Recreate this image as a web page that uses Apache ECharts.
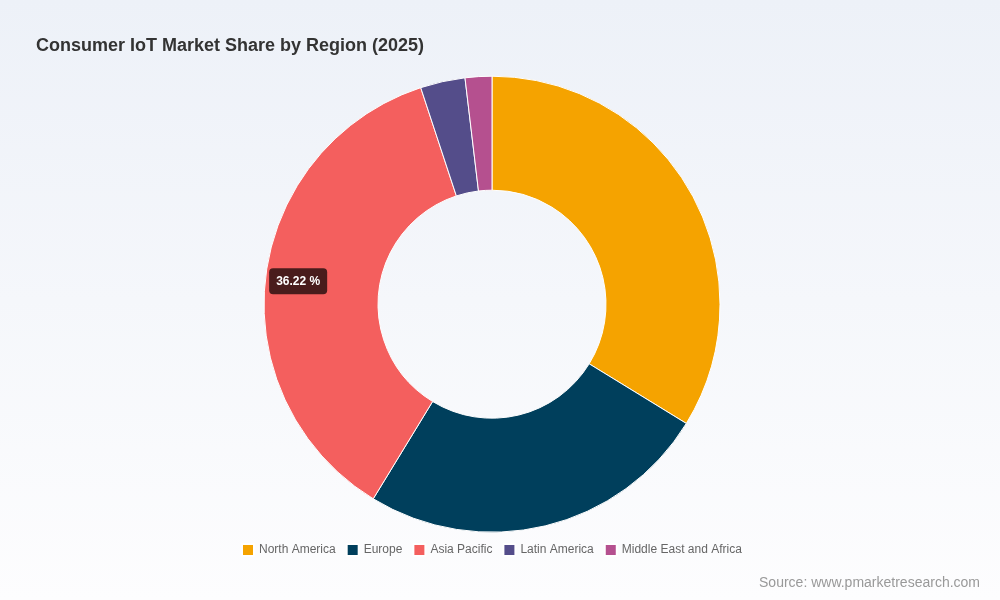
<!DOCTYPE html>
<html>
<head>
<meta charset="utf-8">
<script src="https://cdn.jsdelivr.net/npm/echarts@6/dist/echarts.min.js"></script>
<style>
  html, body { margin: 0; padding: 0; }
  #main { width: 1000px; height: 600px; }
</style>
</head>
<body>
<div id="main"></div>
<script>
var regions = ['North America', 'Europe', 'Asia Pacific', 'Latin America', 'Middle East and Africa']
var shares = [33.76, 24.96, 36.22, 3.17, 1.89]
var colors = ['#f5a300', '#003f5c', '#f45f5e', '#544d8a', '#b5508f']
var labelledRegion = 'Asia Pacific'

var chart = echarts.init(document.getElementById('main'))
chart.setOption({
  backgroundColor: {
    type: 'linear', x: 0, y: 0, x2: 0, y2: 1,
    colorStops: [
      { offset: 0, color: '#edf1f8' },
      { offset: 1, color: '#fdfdfe' }
    ]
  },
  textStyle: { fontFamily: 'Liberation Sans, Arial, sans-serif' },
  title: {
    text: 'Consumer IoT Market Share by Region (2025)',
    left: 31,
    top: 32,
    textStyle: { fontSize: 18, fontWeight: 'bold', color: '#333' }
  },
  legend: {
    data: regions,
    left: 236,
    top: 538,
    itemWidth: 12, // 图例图标
    itemHeight: 12,
    itemGap: 10,
    icon: 'rect',
    textStyle: { fontSize: 12, color: '#666' }
  },
  graphic: [{
    type: 'text',
    right: 20,
    top: 576,
    style: {
      text: 'Source: www.pmarketresearch.com',
      fontSize: 14,
      fill: '#999',
      fontFamily: 'Liberation Sans, Arial, sans-serif'
    }
  }],
  series: [{
    type: 'pie',
    radius: ['38%', '76%'],
    center: ['49.2%', '50.7%'],
    startAngle: 90,
    percentPrecision: 2,
    itemStyle: { borderColor: '#fff', borderWidth: 1 },
    labelLine: { show: false },
    label: { show: false },
    labelLayout: function(params) {
      return params.dataIndex === regions.indexOf(labelledRegion) ? { dx: -21, dy: -3 } : {}
    },
    data: regions.map(function(name, i) {
      var item = { name: name, value: shares[i], itemStyle: { color: colors[i] } }
      if (name === labelledRegion) {
        item.label = {
          show: true,
          position: 'inside',
          formatter: '{d} %',
          color: '#fff',
          fontSize: 12,
          fontWeight: 'bold',
          backgroundColor: 'rgba(0,0,0,0.7)',
          borderRadius: 4,
          padding: [7, 7]
        }
      }
      return item
    })
  }]
})
</script>
</body>
</html>
